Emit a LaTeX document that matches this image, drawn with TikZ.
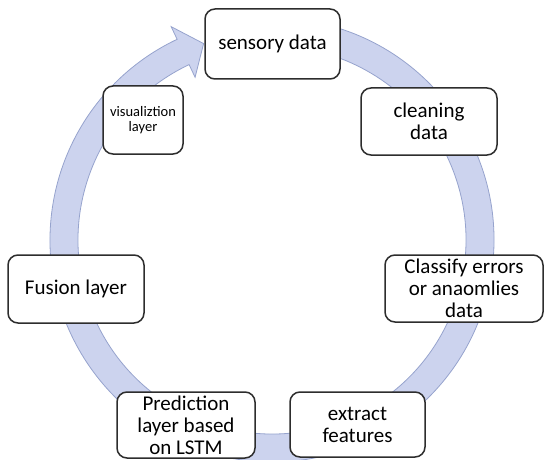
\documentclass[tikz,border=0pt]{standalone}
\usepackage{fontspec}
\setmainfont{Carlito}
\begin{document}
\begin{tikzpicture}[x=1pt,y=-1pt]
\definecolor{bandfill}{RGB}{204,211,238}
\definecolor{bandline}{RGB}{150,163,205}
\definecolor{boxline}{RGB}{45,45,45}
\tikzset{
  stage/.style={draw=boxline, line width=1.5pt, fill=white, rounded corners=10pt,
    align=center, inner sep=0pt, font=\fontsize{21}{22}\selectfont},
  ring/.style={fill=bandfill, draw=bandline, line width=0.8pt}
}
\useasboundingbox (0,0) rectangle (544,460);
\begin{scope}[shift={(272,240)}]
  \filldraw[ring] (-80:222) arc[start angle=-80, end angle=244.7, radius=222]
    -- (244.7:236) -- (250.8:208) -- (244.7:180) -- (244.7:194)
    arc[start angle=244.7, end angle=-80, radius=194] -- cycle;
\end{scope}
\node[stage, minimum width=80pt, minimum height=68pt, font=\fontsize{14.5}{20}\selectfont] (visual) at (143,120) {visualiztion\\[-5pt]layer};
\node[stage, minimum width=135pt, minimum height=70pt] (sensory) at (272.5,44) {sensory data};
\node[stage, minimum width=136pt, minimum height=67pt] (cleaning) at (429,121.5) {cleaning\\data};
\node[stage, minimum width=136pt, minimum height=68pt] (fusion) at (76,289) {Fusion layer};
\node[stage, minimum width=158pt, minimum height=67pt] (classify) at (464,288.5) {Classify errors\\or anaomlies\\data};
\node[stage, minimum width=138pt, minimum height=66pt] (predict) at (186,425) {Prediction\\layer based\\on LSTM};
\node[stage, minimum width=135pt, minimum height=65pt] (extract) at (357.5,424.5) {extract\\features};
\end{tikzpicture}
\end{document}
